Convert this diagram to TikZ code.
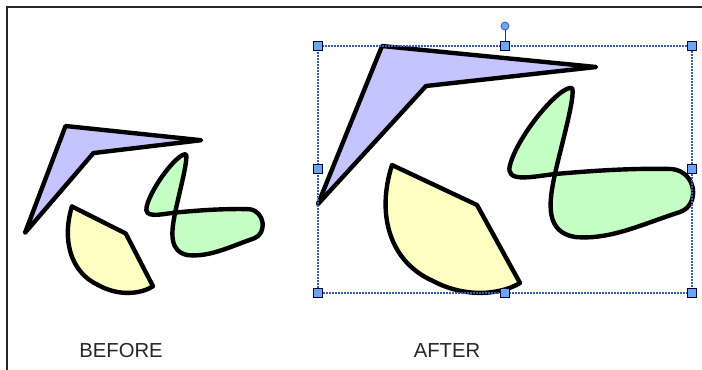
\documentclass[tikz,border=0pt]{standalone}
\usepackage{fontspec}
\setmainfont{Liberation Sans}
\definecolor{lav}{HTML}{C4C4FF}
\definecolor{lyel}{HTML}{FFFFC4}
\definecolor{lgrn}{HTML}{C4FFC4}
\definecolor{selblue}{HTML}{3A5BA8}
\definecolor{handfill}{HTML}{6AA6F2}
\definecolor{txtgray}{HTML}{262626}
\newcommand\drawshapes{%
  \draw[shp, fill=lav] (382,46) -- (596,67) -- (426,86) -- (318,204) -- cycle;
  \draw[shp, fill=lyel] (392,165) -- (477,205) -- (520,283)
     .. controls (500,295) and (465,298) .. (433,281)
     .. controls (390,262) and (376,215) .. (392,165) -- cycle;
  \draw[shp, fill=lgrn] (572,88)
     .. controls (576,95) and (560,150) .. (555,174)
     .. controls (548,205) and (546,232) .. (575,237)
     .. controls (610,240) and (640,225) .. (680,212)
     .. controls (700,205) and (697,172) .. (672,169)
     .. controls (630,168) and (590,171) .. (555,174)
     .. controls (530,177) and (505,183) .. (510,165)
     .. controls (518,135) and (560,85) .. (572,88) -- cycle;
}
\begin{document}
\begin{tikzpicture}[x=0.75pt,y=-0.75pt,
  shp/.style={draw=black, line width=3.3pt, line join=round, line cap=round},
  selbox/.style={draw=selblue, line width=0.9pt, dash pattern=on 1.5pt off 0.75pt},
  handle/.style={draw=black!80!blue, line width=0.7pt, fill=handfill, minimum size=6.2pt, inner sep=0pt, rectangle},
  rothandle/.style={draw=selblue, line width=0.6pt, fill=handfill, circle, minimum size=6pt, inner sep=0pt},
  lbl/.style={text=txtgray, font=\fontsize{15.2}{18}\selectfont, inner sep=0pt}]
\useasboundingbox (0,0) rectangle (702,369);
\draw[line width=1.5pt, black!85] (7,370) -- (7,7) -- (703,7);
% before
\begin{scope}[shift={(25,126)}, xscale=0.6337, yscale=0.6761, shift={(-318,-46)}]
  \drawshapes
\end{scope}
% after
\drawshapes
% selection frame
\coordinate (tl) at (318,46);
\coordinate (br) at (692,293);
\draw[selbox] (tl) rectangle (br);
\node[rothandle] (rot) at (505,26) {};
\node[handle] (htm) at (505,46) {};
\draw[selblue!60!black, line width=0.7pt] (rot) -- (htm);
\node[handle] (htl) at (318,46) {};
\node[handle] (htr) at (692,46) {};
\node[handle] (hml) at (318,169) {};
\node[handle] (hmr) at (692,169) {};
\node[handle] (hbl) at (318,293) {};
\node[handle] (hbm) at (505,293) {};
\node[handle] (hbr) at (692,293) {};
% labels
\node[lbl] (before) at (121,351) {BEFORE};
\node[lbl] (after) at (447,351) {AFTER};
\end{tikzpicture}
\end{document}
